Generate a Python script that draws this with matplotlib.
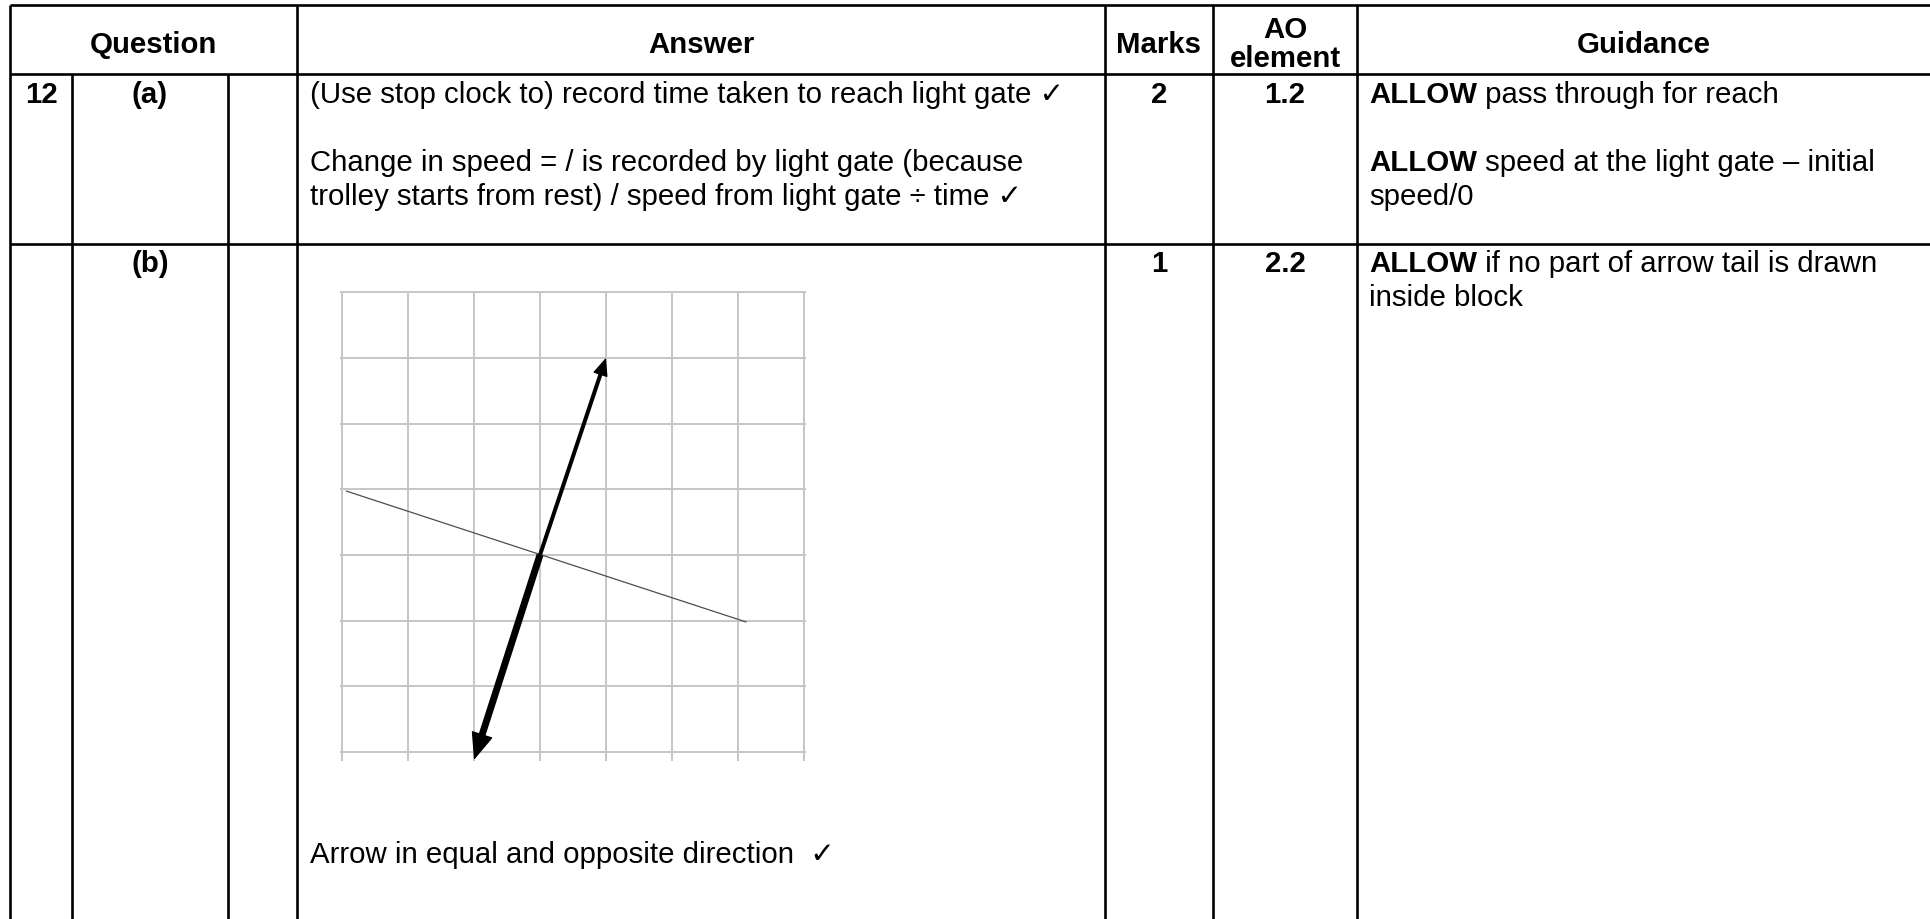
import numpy as np
import matplotlib.pyplot as plt

plt.rcParams['font.family'] = ['Liberation Sans', 'DejaVu Sans']

W, H = 1931, 920
FS = 21.2

# ---- table content ----
header_labels = ["Question", "Answer", "Marks", "AO", "element", "Guidance"]
question_no = "12"
parts = ["(a)", "(b)"]
marks = ["2", "1"]
ao_element = ["1.2", "2.2"]
answer_a = ["(Use stop clock to) record time taken to reach light gate \u2713",
            "Change in speed = / is recorded by light gate (because",
            "trolley starts from rest) / speed from light gate \u00f7 time \u2713"]
answer_b = "Arrow in equal and opposite direction  \u2713"
guidance_a = [("ALLOW", " pass through for reach"),
              ("ALLOW", " speed at the light gate \u2013 initial"),
              ("", "speed/0")]
guidance_b = [("ALLOW", " if no part of arrow tail is drawn"),
              ("", "inside block")]

# ---- diagram (grid units, y up) ----
n_cells = 7
surface_x = [0.07, 6.12]
surface_y = [3.97, 1.98]
arrow_tail = (3, 3)
arrow_up = (4, 6)
arrow_down = (2, -0.12)

# layout in pixels
col_x = [10, 72, 228, 297, 1105, 1213, 1357]
top_y, head_y, rowa_y = 6, 75, 245

fig = plt.figure(figsize=(W / 100, H / 100), dpi=100)
ax = fig.add_axes([0, 0, 1, 1])
ax.set_xlim(0, W)
ax.set_ylim(H, 0)
ax.axis('off')

lw_tab = 1.9
ax.hlines([top_y, head_y, rowa_y], col_x[0], W, color='black', lw=lw_tab)
for x in col_x:
    y0 = head_y if x in (col_x[1], col_x[2]) else top_y
    ax.vlines(x, y0, H, color='black', lw=lw_tab)

# header
hb = 53
bold = dict(va='baseline', ha='center', fontsize=FS, weight='bold')
ax.text((col_x[0] + col_x[3]) / 2, hb, header_labels[0], **bold)
ax.text((col_x[3] + col_x[4]) / 2, hb, header_labels[1], **bold)
ax.text((col_x[4] + col_x[5]) / 2, hb, header_labels[2], **bold)
ax.text((col_x[5] + col_x[6]) / 2, 38, header_labels[3], **bold)
ax.text((col_x[5] + col_x[6]) / 2, 67, header_labels[4], **bold)
ax.text(1644, hb, header_labels[5], **bold)

# rows
row_base = [103, 272]
ax.text((col_x[0] + col_x[1]) / 2, row_base[0], question_no, **bold)
for i in range(2):
    ax.text((col_x[1] + col_x[2]) / 2, row_base[i], parts[i], **bold)
    ax.text((col_x[4] + col_x[5]) / 2, row_base[i], marks[i], **bold)
    ax.text((col_x[5] + col_x[6]) / 2, row_base[i], ao_element[i], **bold)

ans_x = 310
for txt, yb in zip(answer_a, [103, 171, 205]):
    ax.text(ans_x, yb, txt, va='baseline', fontsize=FS)
ax.text(ans_x, 863, answer_b, va='baseline', fontsize=FS)

gx = 1369
fig.canvas.draw()
rend = fig.canvas.get_renderer()
for (b, rest), yb in zip(guidance_a + guidance_b, [103, 171, 205, 272, 306]):
    x = gx
    if b:
        t = ax.text(gx, yb, b, va='baseline', fontsize=FS, weight='bold')
        bb = t.get_window_extent(renderer=rend)
        x = ax.transData.inverted().transform((bb.x1, 0))[0]
    ax.text(x, yb, rest, va='baseline', fontsize=FS)

# ---- diagram axes ----
gx0, cw, gyb, ch = 342, 66, 753, 65.7
ax2 = fig.add_axes([(gx0 - 0.2 * cw) / W, (H - (gyb + 0.35 * ch)) / H,
                    7.4 * cw / W, 7.5 * ch / H])
ax2.set_xlim(-0.2, 7.2)
ax2.set_ylim(-0.35, 7.15)
ax2.axis('off')
grid_c = '#c6c6c6'
for i in range(n_cells + 1):
    ax2.plot([i, i], [-0.14, n_cells], color=grid_c, lw=1.4, solid_capstyle='butt')
    ax2.plot([-0.03, n_cells + 0.03], [i, i], color=grid_c, lw=1.4, solid_capstyle='butt')

ax2.plot(surface_x, surface_y, color='#4d4d4d', lw=0.9)


def force_arrow(tip, shaft_lw, ms, hl, hw, cut):
    tail = np.array(arrow_tail, float)
    tip = np.array(tip, float)
    end = tail + (tip - tail) * (1 - cut)
    ax2.plot([tail[0], end[0]], [tail[1], end[1]], color='black', lw=shaft_lw,
             solid_capstyle='butt', zorder=4)
    ax2.annotate('', xy=tuple(tip), xytext=tuple(tail),
                 arrowprops=dict(arrowstyle='-|>,head_length=%s,head_width=%s' % (hl, hw),
                                 mutation_scale=ms, lw=1, color='black',
                                 shrinkA=0, shrinkB=0), zorder=5)


force_arrow(arrow_up, 2.9, 14, 0.8, 0.34, 0.04)
force_arrow(arrow_down, 5.0, 20, 0.88, 0.36, 0.06)

fig.savefig('out.png', dpi=100)
